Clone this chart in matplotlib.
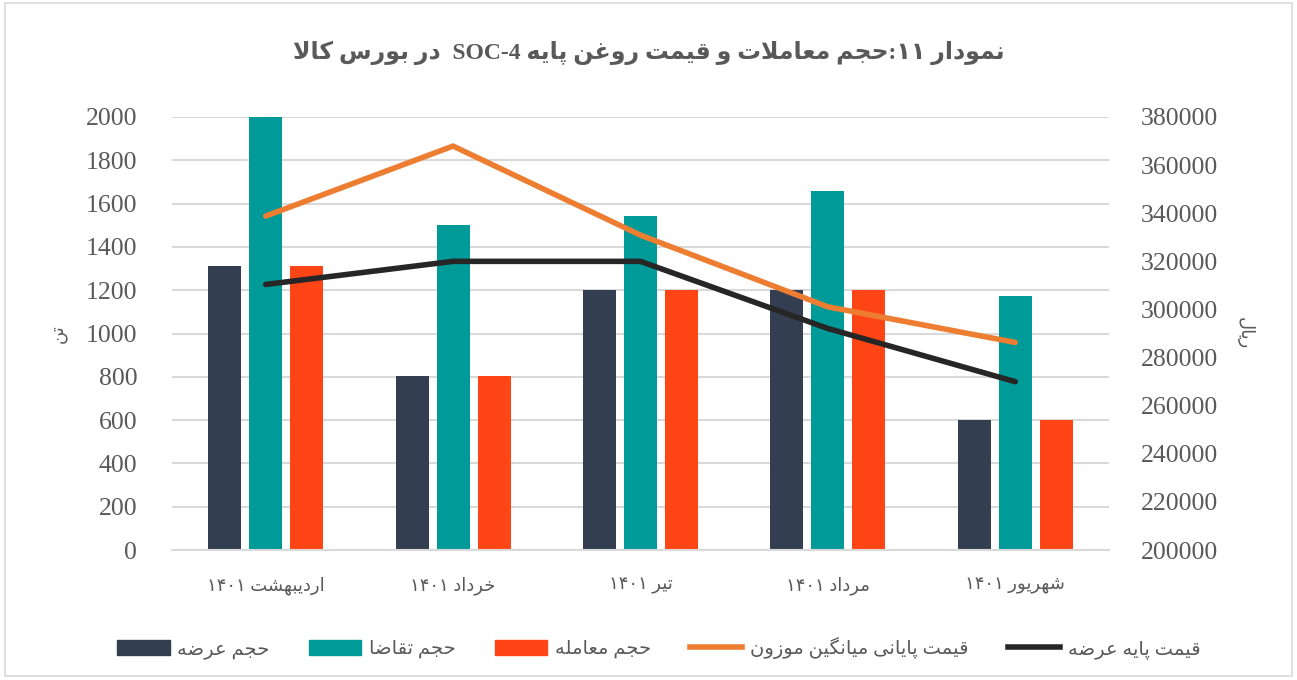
import matplotlib.pyplot as plt
import numpy as np
from matplotlib.patches import Rectangle, Patch
from matplotlib.lines import Line2D

# data
months = ["اردیبهشت ۱۴۰۱", "خرداد ۱۴۰۱", "تیر ۱۴۰۱", "مرداد ۱۴۰۱", "شهریور ۱۴۰۱"]
supply = [1310, 805, 1200, 1200, 600]
demand = [2000, 1500, 1545, 1660, 1175]
traded = [1310, 805, 1200, 1200, 600]
avg_price = [338800, 367900, 330900, 301100, 286300]
base_price = [310400, 320000, 320000, 292100, 270000]

title = "نمودار ۱۱:حجم معاملات و قیمت روغن پایه SOC-4  در بورس کالا"
series_names = ["حجم عرضه", "حجم تقاضا", "حجم معامله",
                "قیمت پایانی میانگین موزون", "قیمت پایه عرضه"]
left_label = "تن"
right_label = "ریال"

# matplotlib has no arabic shaping, so map letters to presentation forms
DUAL = {0x0628: 0xFE8F, 0x062A: 0xFE95, 0x062B: 0xFE99, 0x062C: 0xFE9D,
        0x062D: 0xFEA1, 0x062E: 0xFEA5, 0x0633: 0xFEB1, 0x0634: 0xFEB5,
        0x0635: 0xFEB9, 0x0636: 0xFEBD, 0x0637: 0xFEC1, 0x0638: 0xFEC5,
        0x0639: 0xFEC9, 0x063A: 0xFECD, 0x0641: 0xFED1, 0x0642: 0xFED5,
        0x0644: 0xFEDD, 0x0645: 0xFEE1, 0x0646: 0xFEE5, 0x0647: 0xFEE9,
        0x064A: 0xFEF1, 0x067E: 0xFB56, 0x0686: 0xFB7A, 0x06A9: 0xFB8E,
        0x06AF: 0xFB92, 0x06CC: 0xFBFC}
RIGHT = {0x0627: 0xFE8D, 0x062F: 0xFEA9, 0x0630: 0xFEAB, 0x0631: 0xFEAD,
         0x0632: 0xFEAF, 0x0648: 0xFEED, 0x0698: 0xFB8A}


def joins(ch):
    return ch is not None and (ord(ch) in DUAL or ord(ch) in RIGHT)


def shape(text):
    out = []
    i = 0
    n = len(text)
    while i < n:
        ch = text[i]
        c = ord(ch)
        prev = text[i - 1] if i > 0 else None
        nxt = text[i + 1] if i + 1 < n else None
        con_prev = prev is not None and ord(prev) in DUAL
        if c == 0x0644 and nxt == "\u0627":
            out.append("\uFEFC" if con_prev else "\uFEFB")
            i += 2
            continue
        if c in DUAL:
            con_next = joins(nxt)
            off = {(False, False): 0, (True, False): 1,
                   (False, True): 2, (True, True): 3}[(con_prev, con_next)]
            out.append(chr(DUAL[c] + off))
        elif c in RIGHT:
            out.append(chr(RIGHT[c] + (1 if con_prev else 0)))
        else:
            out.append(ch)
        i += 1
    return "".join(out)


def fa(text):
    s = shape(text)
    runs = []
    for ch in s:
        ltr = (ch.isascii() and (ch.isalnum() or ch == "-")) or "\u06F0" <= ch <= "\u06F9"
        if runs and runs[-1][0] == ltr:
            runs[-1][1].append(ch)
        else:
            runs.append([ltr, [ch]])
    return "".join("".join(r) if l else "".join(r[::-1]) for l, r in reversed(runs))


def main():
    fonts = ["Liberation Serif", "DejaVu Sans"]
    grey = "#595959"
    c_supply, c_demand, c_traded = "#333f50", "#009a99", "#ff4516"
    c_avg, c_base = "#ed7d31", "#262626"

    fig = plt.figure(figsize=(12.97, 6.8), dpi=100)
    fig.patches.append(Rectangle((0.004, 0.006), 0.992, 0.99, transform=fig.transFigure,
                                 fill=False, edgecolor="#d9d9d9", linewidth=1.2))
    ax = fig.add_axes([0.1326, 0.191, 0.7224, 0.637])
    ax2 = ax.twinx()

    x = np.arange(len(months))
    w = 0.176
    step = 0.219
    ax.bar(x - step, supply, w, color=c_supply, zorder=2)
    ax.bar(x, demand, w, color=c_demand, zorder=2)
    ax.bar(x + step, traded, w, color=c_traded, zorder=2)

    ax2.plot(x, avg_price, color=c_avg, lw=4, solid_capstyle="round", zorder=3)
    ax2.plot(x, base_price, color=c_base, lw=4, solid_capstyle="round", zorder=3)

    ax.set_xlim(-0.5, len(months) - 0.5)
    ax.set_ylim(0, 2000)
    ax.set_yticks(np.arange(0, 2001, 200))
    ax2.set_ylim(200000, 380000)
    ax2.set_yticks(np.arange(200000, 380001, 20000))
    ax.yaxis.grid(True, color="#d9d9d9", lw=1.5, zorder=0)
    ax.set_axisbelow(True)

    for a in (ax, ax2):
        for sp in a.spines.values():
            sp.set_visible(False)
        a.tick_params(length=0, colors=grey)
    ax.spines["bottom"].set_visible(True)
    ax.spines["bottom"].set_color("#d9d9d9")
    ax.spines["bottom"].set_linewidth(1.5)

    ax.tick_params(axis="y", pad=25)
    ax2.tick_params(axis="y", pad=23)
    ax.tick_params(axis="x", pad=19)
    for lab in ax.get_yticklabels() + ax2.get_yticklabels():
        lab.set_family(fonts)
        lab.set_fontsize(18.5)
    ax.set_xticks(x)
    ax.set_xticklabels([fa(m) for m in months], family=fonts, fontsize=13, color=grey)

    ax.set_ylabel(fa(left_label), family=fonts, fontsize=13, color=grey, labelpad=14)
    ax2.set_ylabel(fa(right_label), family=fonts, fontsize=13, color=grey,
                   rotation=-90, labelpad=26)

    fig.text(0.5, 0.922, fa(title), ha="center", va="center", family=fonts,
             fontsize=17, fontweight="bold", color=grey)

    handles = [Patch(color=c_supply), Patch(color=c_demand), Patch(color=c_traded),
               Line2D([], [], color=c_avg, lw=4), Line2D([], [], color=c_base, lw=4)]
    fig.legend(handles, [fa(s) for s in series_names], loc="center",
               bbox_to_anchor=(0.508, 0.047), ncol=5, frameon=False,
               prop={"family": fonts, "size": 14}, labelcolor=grey,
               handlelength=2.7, handleheight=0.8, columnspacing=2.0, handletextpad=0.4)

    fig.savefig("out.png", dpi=100)


if __name__ == "__main__":
    main()
